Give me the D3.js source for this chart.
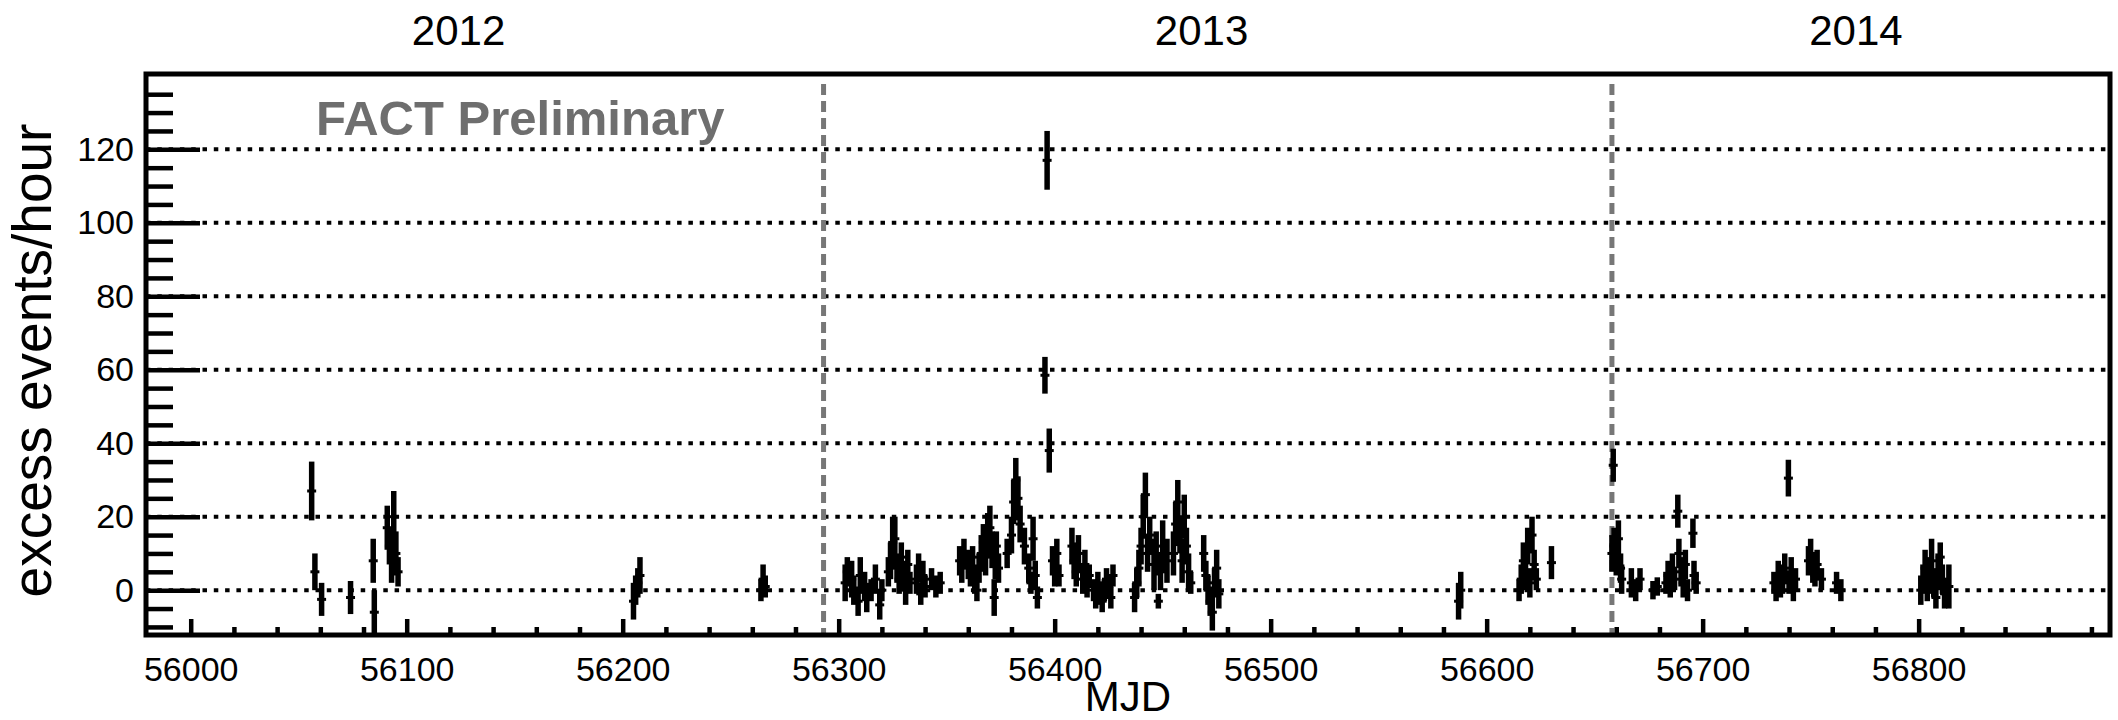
<!DOCTYPE html>
<html>
<head>
<meta charset="utf-8">
<script src="https://cdn.jsdelivr.net/npm/d3@7"></script>
<style>
  body { margin: 0; background: #fff; }
  text { font-family: "Liberation Sans", Arial, sans-serif; }
</style>
</head>
<body>
<div class="chart"></div>
<script>
// nightly excess rates
var mjd = [
  56056, 56057.5, 56060.6, 56074, 56084.5, 56085, 56091, 56092, 56093, 56094, 56095, 56096,
  56205, 56206, 56207, 56208, 56264, 56265, 56266,
  56303, 56304, 56306, 56307, 56309, 56310, 56312, 56313, 56315, 56317, 56319, 56320,
  56323, 56324, 56325, 56326, 56327, 56328, 56329, 56330, 56331, 56332, 56333,
  56336, 56337, 56338, 56339, 56340, 56343, 56345, 56347,
  56356, 56357, 56358, 56360, 56361, 56362, 56363, 56364, 56365, 56366, 56367, 56368,
  56369, 56370, 56371, 56372, 56372.5, 56373, 56374,
  56378, 56380, 56381, 56382, 56383, 56384, 56386, 56388, 56389, 56390, 56391, 56392,
  56395.5, 56396.5, 56397.5, 56399, 56400, 56401, 56402,
  56408, 56409, 56410, 56411, 56413, 56414, 56415, 56416, 56418, 56419, 56420, 56421,
  56422, 56423, 56424, 56425, 56426, 56427,
  56437, 56438, 56439, 56440, 56441, 56442, 56443, 56444, 56446, 56447, 56448, 56449,
  56450, 56452, 56455, 56456, 56457, 56458, 56459, 56460, 56461, 56462, 56463,
  56469, 56470, 56471, 56472, 56473, 56474, 56475, 56476,
  56587, 56588, 56615, 56616, 56617, 56618, 56619, 56620, 56621, 56622, 56623, 56630,
  56658, 56658.6, 56659, 56660, 56661, 56662, 56662.5, 56667, 56669, 56671, 56677, 56679,
  56683, 56684, 56685, 56686, 56687, 56688.5, 56689, 56690, 56691, 56692, 56693,
  56695.5, 56696, 56697,
  56733, 56734, 56735, 56736, 56737, 56738, 56739.7, 56740, 56741, 56742, 56743,
  56749, 56750, 56751, 56752, 56753, 56755, 56762, 56764,
  56801, 56802, 56803, 56804, 56805, 56806, 56807, 56808, 56809, 56810, 56811, 56812, 56814
];
var excessRate = [
  27, 5, -2.5, -2, 8, -6, 17, 12, 8, 20, 10, 5,
  -3, 0, 2, 4, 0, 3, 1,
  2, 5, 3, 0, -3, 4, 1, -2, 0, 3, -4, 0,
  5, 8, 13, 14, 6, 3, 9, 4, 0, 7, 2,
  3, 6, -1, 4, 1, 3, 1, 2,
  8, 6, 10, 7, 5, 9, 3, 0, 6, 10, 13, 9,
  15, 17, 11, -2, 8, 12, 6,
  10, 15, 24, 30, 25, 18, 12, 6, 2, 14, 4, -2,
  58.5, 117, 38, 8, 5, 10, 4,
  12, 8, 5, 10, 3, 7, 1, 4, 0, -2, 2, -1,
  -3, 0, 3, 1, -2, 4,
  -2, 2, 6, 12, 20, 26, 10, 15, 7, 10, -3, 5,
  12, 8, 10, 18, 24, 15, 8, 20, 12, 5, 2,
  10, 4, 0, -3, -6, 2, 6, -1,
  -3, 0, 0, 3, 8, 5, 12, 2, 15, 7, 3, 7.5,
  10, 34, 12, 8, 14, 6, 3, 2, 0, 3, 0, 1,
  2, 4, 1, 6, 3, 21.5, 10, 5, 2, 7, 0,
  15.5, 4, 2,
  2, 0, 4, 1, 3, 6, 30.5, 2, 5, 0, 3,
  8, 10, 6, 4, 7, 3, 2, 0,
  0, 3, 6, 1, 4, 8, 2, -2, 5, 9, 3, -1, 1
];
var rateError = [
  8, 5, 4.5, 4.5, 6, 6, 6, 5, 6, 7, 6, 4,
  5, 4, 4, 5, 3, 4, 3,
  5, 4, 5, 4, 4, 5, 4, 4, 3, 4, 4, 3,
  4, 5, 7, 6, 4, 4, 4, 4, 4, 4, 3,
  4, 4, 3, 4, 3, 3, 3, 3,
  4, 4, 4, 4, 4, 3, 4, 3, 4, 5, 5, 5,
  6, 6, 5, 5, 5, 4, 4,
  4, 5, 6, 6, 6, 5, 5, 4, 3, 6, 4, 3,
  5, 8, 6, 4, 4, 4, 3,
  5, 5, 4, 5, 4, 4, 3, 3, 3, 3, 3, 3,
  3, 3, 3, 3, 3, 3,
  4, 4, 5, 5, 6, 6, 5, 5, 7, 6, 2, 5,
  7, 6, 6, 6, 6, 5, 6, 6, 5, 5, 3,
  5, 4, 4, 4, 5, 4, 5, 4,
  5, 5, 3, 4, 5, 5, 5, 4, 5, 4, 3, 4.5,
  5, 4.5, 5, 4, 5, 4, 4, 4, 3, 3, 2.5, 2.5,
  3, 4, 3, 4, 3, 4.5, 4, 4, 4, 4, 3,
  4, 4, 3,
  3, 3, 4, 3, 4, 4, 5, 3, 4, 3, 3,
  4, 4, 4, 3, 4, 3, 3, 3,
  4, 4, 5, 4, 5, 6, 4, 3, 5, 4, 4, 4, 6
];

var yearNames = ["2012", "2013", "2014"];
var yearCentres = [56124, 56468, 56771];   // where the year labels sit
var yearStarts = [56293, 56658];           // 1 Jan 2013, 1 Jan 2014

var xMajor = d3.range(56000, 56801, 100);
var xMinor = d3.range(56000, 56881, 20).filter(function(v){ return v % 100 !== 0; });
var yMajor = d3.range(0, 121, 20);
var yMinor = d3.range(-10, 136, 5).filter(function(v){ return v % 20 !== 0; });

var W = 2118, H = 720;
var margin = {top: 74, right: 8, bottom: 85, left: 146},
    width = W - margin.left - margin.right,
    height = H - margin.top - margin.bottom;

var x = d3.scaleLinear().domain([55979.3, 56888.6]).range([0, width]);
var y = d3.scaleLinear().domain([-12.2, 140.5]).range([height, 0]);

var svg = d3.select(".chart").append("svg")
    .attr("width", W).attr("height", H);

var g = svg.append("g")
    .attr("transform", "translate(" + margin.left + "," + margin.top + ")");

g.append("defs").append("clipPath").attr("id", "clip")
  .append("rect").attr("width", width).attr("height", height);

// dotted grid
g.append("g").selectAll("line")
    .data(yMajor)
  .enter().append("line")
    .attr("x1", 0).attr("x2", width)
    .attr("y1", function(d){ return y(d); })
    .attr("y2", function(d){ return y(d); })
    .style("stroke", "#000")
    .style("stroke-width", 4)
    .style("stroke-dasharray", "4.5,6.8");

// year boundaries
g.append("g").selectAll("line")
    .data(yearStarts)
  .enter().append("line")
    .attr("x1", function(d){ return x(d); })
    .attr("x2", function(d){ return x(d); })
    .attr("y1", 10).attr("y2", height)
    .style("stroke", "#777")
    .style("stroke-width", 5)
    .style("stroke-dasharray", "11,6");

// axes: ticks drawn inward like ROOT
var xAxis = d3.axisBottom(x).tickValues(xMajor).tickSizeInner(-16).tickSizeOuter(0)
    .tickPadding(22).tickFormat(d3.format("d"));
var xAxisMinor = d3.axisBottom(x).tickValues(xMinor).tickSizeInner(-8).tickSizeOuter(0).tickFormat("");
var yAxis = d3.axisLeft(y).tickValues(yMajor).tickSizeInner(-54).tickSizeOuter(0).tickPadding(12);
var yAxisMinor = d3.axisLeft(y).tickValues(yMinor).tickSizeInner(-27).tickSizeOuter(0).tickFormat("");

function styleAxis(sel, size) {
  sel.select(".domain").remove();
  sel.selectAll(".tick line").style("stroke", "#000").style("stroke-width", 4.5);
  sel.selectAll(".tick text").style("font-size", size + "px").style("fill", "#000")
     .style("font-family", "'Liberation Sans', Arial, sans-serif");
}

g.append("g").attr("transform", "translate(0," + height + ")").call(xAxis).call(styleAxis, 34);
g.append("g").attr("transform", "translate(0," + height + ")").call(xAxisMinor).call(styleAxis, 34);
g.append("g").call(yAxis).call(styleAxis, 34);
g.append("g").call(yAxisMinor).call(styleAxis, 34);

// data points with error bars
var points = mjd.map(function(t, i){ return {t: t, v: excessRate[i], e: rateError[i]}; });

var pts = g.append("g").attr("clip-path", "url(#clip)");

pts.selectAll(".err")
    .data(points)
  .enter().append("line")
    .attr("class", "err")
    .attr("x1", function(d){ return x(d.t); })
    .attr("x2", function(d){ return x(d.t); })
    .attr("y1", function(d){ return y(d.v - d.e); })
    .attr("y2", function(d){ return y(d.v + d.e); })
    .style("stroke", "#000")
    .style("stroke-width", 5.5);

pts.selectAll(".mark")
    .data(points)
  .enter().append("line")
    .attr("class", "mark")
    .attr("x1", function(d){ return x(d.t) - 4.5; })
    .attr("x2", function(d){ return x(d.t) + 4.5; })
    .attr("y1", function(d){ return y(d.v); })
    .attr("y2", function(d){ return y(d.v); })
    .style("stroke", "#000")
    .style("stroke-width", 3);

// frame
g.append("rect")
    .attr("width", width).attr("height", height)
    .style("fill", "none")
    .style("stroke", "#000")
    .style("stroke-width", 5);

// labels
g.append("text")
    .attr("x", 170).attr("y", 61)
    .style("font-size", "49px")
    .style("font-weight", "bold")
    .style("fill", "#6e6e6e")
    .text("FACT Preliminary");

g.append("g").selectAll("text")
    .data(yearNames)
  .enter().append("text")
    .attr("x", function(d, i){ return x(yearCentres[i]); })
    .attr("y", -29)
    .attr("text-anchor", "middle")
    .style("font-size", "42px")
    .text(function(d){ return d; });

g.append("text")
    .attr("x", width / 2).attr("y", height + 76)
    .attr("text-anchor", "middle")
    .style("font-size", "42px")
    .text("MJD");

svg.append("text")
    .attr("transform", "translate(51," + (margin.top + height / 2 + 6) + ") rotate(-90)")
    .attr("text-anchor", "middle")
    .style("font-size", "55px")
    .text("excess events/hour");
</script>
</body>
</html>
